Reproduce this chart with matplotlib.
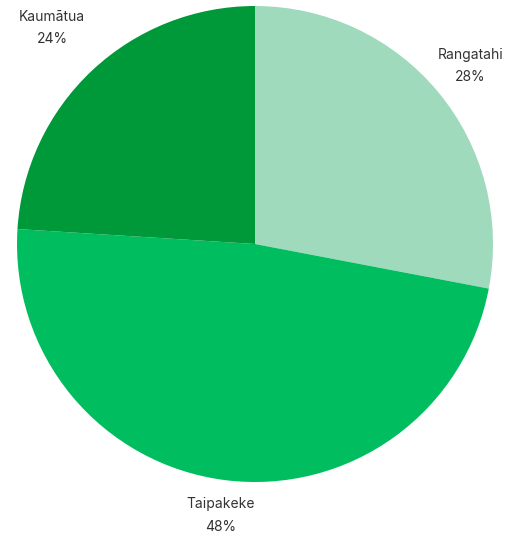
import numpy as np
import matplotlib
matplotlib.use("Agg")
import matplotlib.pyplot as plt

categories = ["Rangatahi", "Taipakeke", "Kaumātua"]
values = [28, 48, 24]
colors = ["#9fdabd", "#00be5f", "#00993a"]
label_dist = [1.175, 1.15, 1.245]

fig = plt.figure(figsize=(5.28, 5.41), dpi=100)
W, H = 528, 541
cx, cy, r = 255, 244, 238
ax = fig.add_axes([(cx - r) / W, (H - cy - r) / H, 2 * r / W, 2 * r / H])
wedges, _ = ax.pie(values, colors=colors, startangle=90, counterclock=False,
                   radius=1, wedgeprops=dict(linewidth=0))
ax.set_xlim(-1, 1)
ax.set_ylim(-1, 1)
ax.set_aspect("equal")
ax.axis("off")

for w, name, v, d in zip(wedges, categories, values, label_dist):
    ang = np.deg2rad((w.theta1 + w.theta2) / 2)
    ax.text(d * np.cos(ang), d * np.sin(ang), f"{name}\n{v}%", ha="center", va="center",
            fontsize=10, color="#333333", linespacing=1.75, family="Inter")

fig.savefig("out.png", dpi=100, facecolor="white")
